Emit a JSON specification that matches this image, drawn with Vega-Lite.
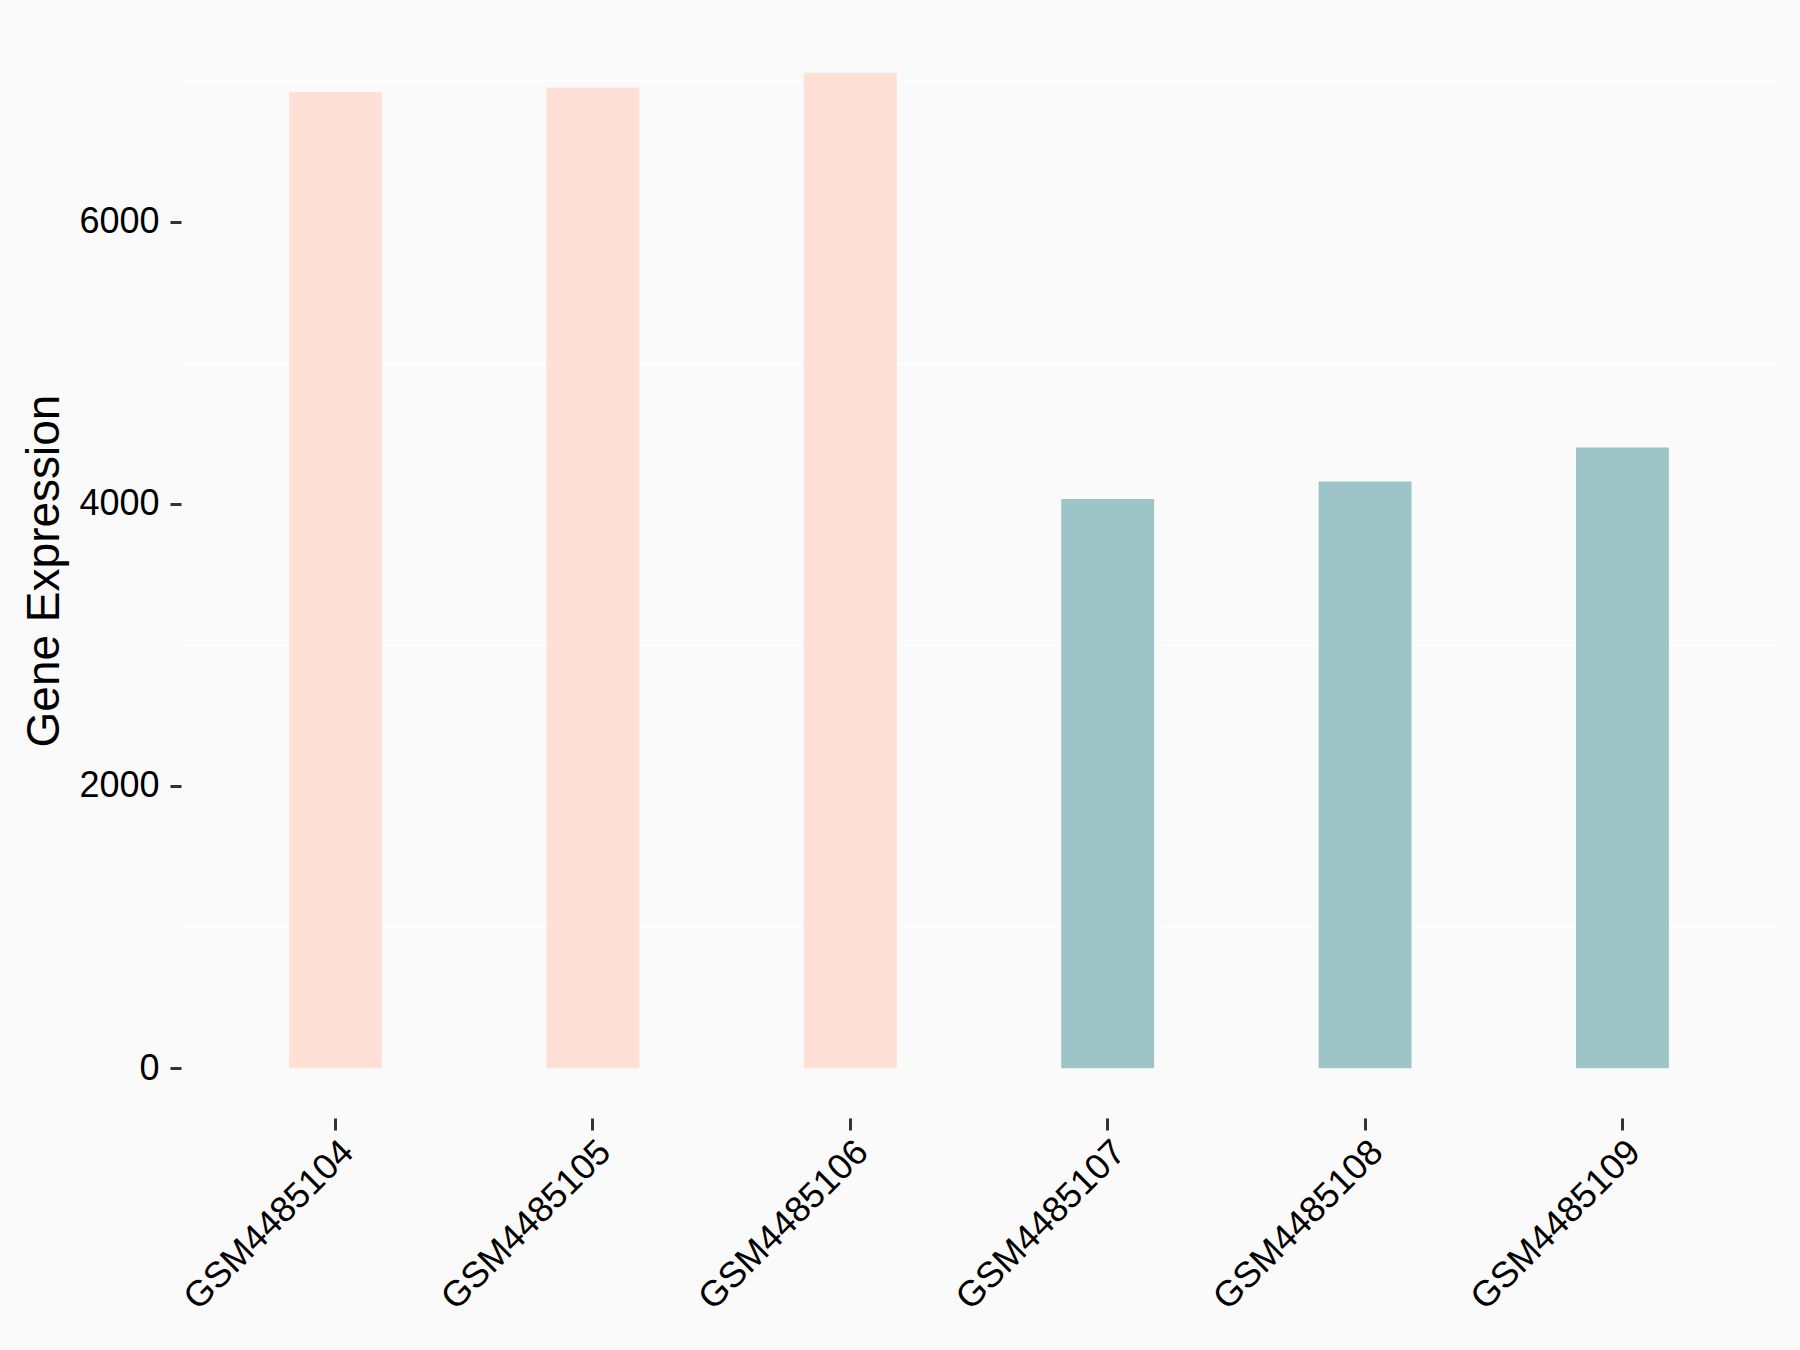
{
  "$schema": "https://vega.github.io/schema/vega-lite/v6.json",
  "width": 1596,
  "height": 1095,
  "autosize": {"type": "none"},
  "padding": {"left": 181, "top": 23, "right": 23, "bottom": 232},
  "background": "#FAFAFA",
  "config": {"view": {"stroke": null}, "font": "Liberation Sans"},
  "data": {
    "values": [
      {"sample": "GSM4485104", "value": 6917, "group": "A"},
      {"sample": "GSM4485105", "value": 6950, "group": "A"},
      {"sample": "GSM4485106", "value": 7054, "group": "A"},
      {"sample": "GSM4485107", "value": 4033, "group": "B"},
      {"sample": "GSM4485108", "value": 4158, "group": "B"},
      {"sample": "GSM4485109", "value": 4399, "group": "B"}
    ]
  },
  "layer": [
    {
      "mark": {"type": "rule", "opacity": 0},
      "encoding": {
        "y": {
          "field": "value",
          "type": "quantitative",
          "scale": {"domain": [-352.7, 7406.7], "nice": false, "zero": false},
          "axis": {
            "orient": "left",
            "values": [1000, 3000, 5000, 7000],
            "grid": true,
            "gridColor": "#FFFFFF",
            "gridWidth": 1.3,
            "gridOpacity": 1,
            "labels": false,
            "ticks": false,
            "domain": false,
            "title": null
          }
        }
      }
    },
    {
      "mark": {"type": "bar"},
      "encoding": {
        "x": {
          "field": "sample",
          "type": "nominal",
          "sort": null,
          "scale": {"paddingInner": 0.639, "paddingOuter": 0.42},
          "axis": {
            "title": null,
            "grid": false,
            "domain": false,
            "labelAngle": -45,
            "labelAlign": "right",
            "labelBaseline": "top",
            "labelFontSize": 36,
            "labelLimit": 0,
            "labelColor": "#000000",
            "labelPadding": 4,
            "tickColor": "#333333",
            "tickWidth": 3,
            "tickSize": 12
          }
        },
        "y": {
          "field": "value",
          "type": "quantitative",
          "scale": {"domain": [-352.7, 7406.7], "nice": false, "zero": false},
          "axis": {
            "orient": "left",
            "values": [0, 2000, 4000, 6000],
            "format": "d",
            "grid": false,
            "domain": false,
            "labelFontSize": 36,
            "labelLimit": 0,
            "labelColor": "#000000",
            "labelPadding": 11,
            "tickColor": "#333333",
            "tickWidth": 3,
            "tickSize": 11,
            "title": "Gene Expression",
            "titleFontSize": 46,
            "titleFontWeight": "normal",
            "titleColor": "#000000",
            "titlePadding": 10
          }
        },
        "color": {
          "field": "group",
          "type": "nominal",
          "scale": {"domain": ["A", "B"], "range": ["#FEE0D6", "#9DC4C7"]},
          "legend": null
        }
      }
    }
  ],
  "resolve": {"axis": {"y": "independent"}}
}
